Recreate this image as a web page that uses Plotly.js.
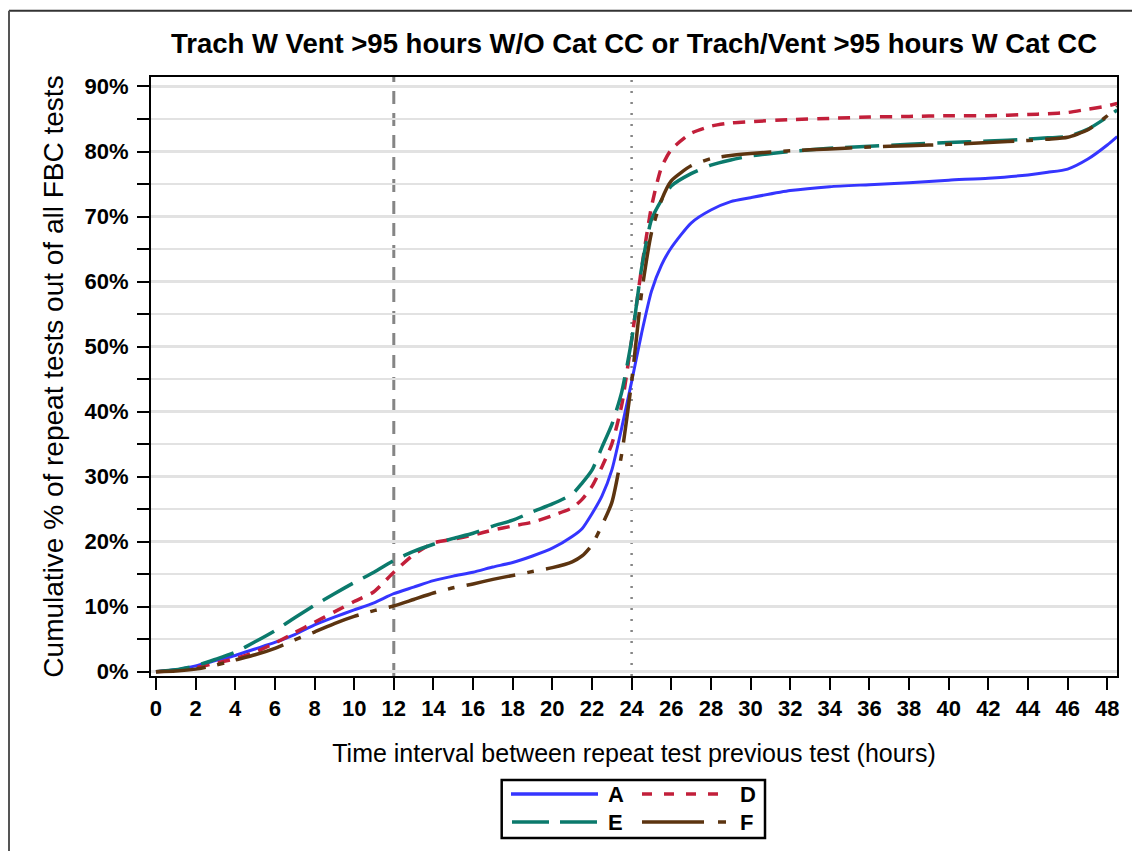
<!DOCTYPE html>
<html>
<head>
<meta charset="utf-8">
<script src="https://cdn.plot.ly/plotly-3.0.1.min.js"></script>
<style>
  html, body { margin: 0; padding: 0; background: #fff; }
  #chart { width: 1132px; height: 851px; }
</style>
</head>
<body>
<div id="chart"></div>
<script>
// ---------- data ----------
const hours = [0,1,2,3,4,5,6,7,8,9,10,11,12,13,14,15,16,17,18,19,20,21,21.5,22,22.5,23,23.5,24,24.5,25,25.5,26,27,28,29,30,32,34,36,38,40,42,44,45,46,47,48,48.5];

const seriesA = [0,0.3,0.9,1.7,2.5,3.5,4.5,5.7,7.2,8.4,9.5,10.6,12.0,13.0,14.0,14.7,15.3,16.1,16.8,17.8,19.0,20.8,
  22.0,24.3,27.0,31.0,37.5,44.6,52.0,58.5,62.5,65.2,69.0,71.0,72.3,72.9,74.0,74.6,74.9,75.2,75.6,75.9,76.4,76.8,77.3,78.8,81.0,82.3];

const seriesD = [0,0.2,0.6,1.3,2.0,3.0,4.4,6.0,7.6,9.2,10.8,12.3,15.3,18.0,19.8,20.4,21.0,21.8,22.4,23.0,24.0,25.2,
  26.5,28.5,31.5,35.0,41.0,51.0,62.0,71.5,77.5,80.3,82.8,83.9,84.4,84.6,84.9,85.1,85.3,85.4,85.5,85.5,85.7,85.8,86.0,86.5,87.0,87.4];

const seriesE = [0,0.3,0.9,1.9,3.0,4.6,6.3,8.3,10.2,12.0,13.7,15.3,17.1,18.5,19.6,20.5,21.3,22.4,23.3,24.6,25.8,27.3,
  29.0,31.0,34.5,38.0,43.0,51.0,62.0,69.5,72.5,74.7,76.6,77.9,78.7,79.3,80.0,80.5,80.8,81.1,81.4,81.6,81.9,82.1,82.3,83.4,85.3,86.4];

const seriesF = [0,0.1,0.4,1.0,1.8,2.6,3.6,4.9,6.1,7.4,8.5,9.4,10.1,11.1,12.1,12.9,13.5,14.2,14.8,15.4,16.0,16.9,
  17.8,19.5,22.5,26.0,33.5,44.6,58.2,67.5,72.5,75.5,77.8,78.9,79.4,79.7,80.1,80.4,80.7,80.9,81.1,81.4,81.7,81.9,82.2,83.3,85.5,86.9];

const seriesNames = ['A','D','E','F'];
const refLines = [12, 24];

const titleText = 'Trach W Vent >95 hours W/O Cat CC or Trach/Vent >95 hours W Cat CC';
const xTitle = 'Time interval between repeat test previous test (hours)';
const yTitle = 'Cumulative % of repeat tests out of all FBC tests';

// ---------- styles ----------
const FONT = 'Arial, "Liberation Sans", Helvetica, sans-serif';
const styles = [
  {color:'#3535ff', dash:'solid', width:3, legDash:'solid'},
  {color:'#c21f3a', dash:'12px,9px', width:3.5, legDash:'10px,12px'},
  {color:'#0b7a6c', dash:'34px,12px', width:3.5, legDash:'37px,11px'},
  {color:'#5c3410', dash:'50px,12px,7px,12px', width:3.5, legDash:'62px,14px,8px,14px'}
];
const allSeries = [seriesA, seriesD, seriesE, seriesF];

const traces = allSeries.map((ys, i) => ({
  type:'scatter', mode:'lines', x:hours, y:ys, name:seriesNames[i],
  showlegend:false,
  line:{color:styles[i].color, dash:styles[i].dash, width:styles[i].width, shape:'spline', smoothing:0.6},
  hoverinfo:'skip'
}));

// ---------- plot geometry ----------
const L = 151, R = 15, T = 77, B = 175, W = 1132, H = 851;
const pw = W - L - R, ph = H - T - B;
const px = v => (v - L) / pw;
const py = v => (H - B - v) / ph;

const shapes = [];
// reference lines
shapes.push({type:'line', xref:'x', yref:'paper', x0:refLines[0], x1:refLines[0], y0:0, y1:1,
  line:{color:'#858585', width:3, dash:'13px,9px'}, layer:'between'});
shapes.push({type:'line', xref:'x', yref:'paper', x0:refLines[1], x1:refLines[1], y0:0, y1:1,
  line:{color:'#858585', width:2.5, dash:'2px,9px'}, layer:'between'});

// outer frame (top and left edges visible)
shapes.push({type:'line', xref:'paper', yref:'paper', x0:px(9), x1:px(1132), y0:py(10.7), y1:py(10.7),
  line:{color:'#333', width:2}});
shapes.push({type:'line', xref:'paper', yref:'paper', x0:px(9), x1:px(9), y0:py(10.7), y1:py(851),
  line:{color:'#555', width:2}});

// legend box
shapes.push({type:'rect', xref:'paper', yref:'paper', x0:px(501.7), x1:px(765), y0:py(780), y1:py(838),
  line:{color:'#000', width:2.5}, fillcolor:'rgba(0,0,0,0)'});

const legendPos = [
  {x0:511, x1:598, y:794, tx:606},
  {x0:642, x1:726, y:794, tx:738},
  {x0:512, x1:597, y:822, tx:606},
  {x0:642, x1:726, y:822, tx:738}
];
const annotations = [];
seriesNames.forEach((n, i) => {
  const p = legendPos[i];
  shapes.push({type:'line', xref:'paper', yref:'paper', x0:px(p.x0), x1:px(p.x1), y0:py(p.y), y1:py(p.y),
    line:{color:styles[i].color, width:3.5, dash:styles[i].legDash}});
  annotations.push({xref:'paper', yref:'paper', x:px(p.tx), y:py(p.y), xanchor:'left', yanchor:'middle',
    text:n, showarrow:false, font:{family:FONT, size:22, color:'#000', weight:'bold'}});
});

const layout = {
  width:W, height:H,
  margin:{l:L, r:R, t:T, b:B},
  paper_bgcolor:'#fff', plot_bgcolor:'#fff',
  font:{family:FONT, color:'#000'},
  title:{text:titleText, x:0.5, xref:'paper', xanchor:'center', y:1 - 43/H, yanchor:'middle',
    font:{family:FONT, size:27.5, color:'#000', weight:'bold'}},
  xaxis:{
    range:[-0.25, 48.49], tick0:0, dtick:2, ticks:'outside', ticklen:12, tickwidth:2, tickcolor:'#000',
    showline:true, linewidth:2, linecolor:'#000', mirror:true, showgrid:false, zeroline:false,
    tickfont:{family:FONT, size:22, color:'#000', weight:'bold'},
    title:{text:xTitle, standoff:24, font:{family:FONT, size:25, color:'#000'}}
  },
  yaxis:{
    range:[-0.66, 91.46], tick0:0, dtick:10, ticksuffix:'%', ticks:'outside', ticklen:12, tickwidth:2, tickcolor:'#000',
    showline:true, linewidth:2, linecolor:'#000', mirror:true, showgrid:true, gridcolor:'#e2e2e2', gridwidth:2.5,
    zeroline:false, ticklabelstandoff:4,
    minor:{dtick:5, ticks:'outside', ticklen:12, tickwidth:2, tickcolor:'#000', showgrid:true, gridcolor:'#e2e2e2', gridwidth:2.5},
    tickfont:{family:FONT, size:22, color:'#000', weight:'bold'},
    title:{text:yTitle, standoff:13, font:{family:FONT, size:28, color:'#000'}}
  },
  shapes:shapes,
  annotations:annotations,
  showlegend:false
};

Plotly.newPlot('chart', traces, layout, {displayModeBar:false, staticPlot:true});
</script>
</body>
</html>
